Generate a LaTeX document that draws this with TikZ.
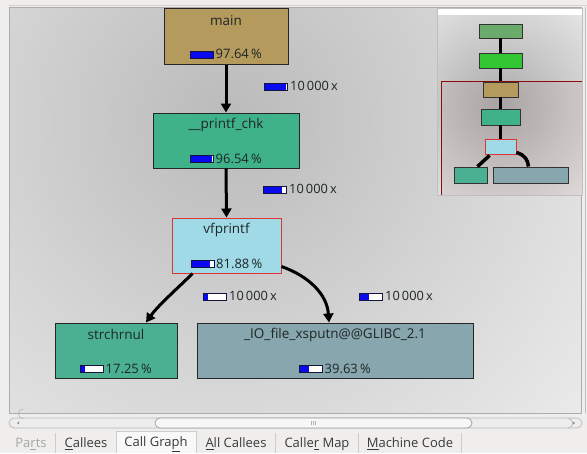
\documentclass[tikz,border=0pt]{standalone}
\usepackage{fontspec}
\setmainfont{Open Sans}
\usetikzlibrary{arrows.meta,calc}

% palette
\definecolor{winbg}{HTML}{EFEEED}
\definecolor{frameline}{HTML}{ACACAC}
\definecolor{cMain}{HTML}{B49A5C}
\definecolor{cChk}{HTML}{3FB28A}
\definecolor{cVf}{HTML}{A0DAE6}
\definecolor{cStr}{HTML}{4BB092}
\definecolor{cIO}{HTML}{87A6AE}
\definecolor{cTop}{HTML}{6AAA6A}
\definecolor{cLime}{HTML}{33C633}
\definecolor{selred}{HTML}{E03434}
\definecolor{mapred}{HTML}{8B0A0A}
\definecolor{barblue}{HTML}{0A0AF0}
\definecolor{barframe}{HTML}{14143C}
\definecolor{inktext}{HTML}{1E2626}
\definecolor{tabtext}{HTML}{3A3A3A}
\colorlet{glowA}{black!27}
\colorlet{glowM}{black!17}
\colorlet{glowB}{black!5}
\colorlet{glowC}{black!3}
\colorlet{mapA}{black!33}
\colorlet{mapB}{white}

% soft grey glow behind the call graph and the overview map
\pgfdeclareradialshading{viewglow}{\pgfpoint{0bp}{0bp}}{color(0bp)=(glowA); color(14bp)=(glowM); color(32bp)=(glowB); color(50bp)=(glowC)}
\pgfdeclareradialshading{mapglow}{\pgfpoint{0bp}{0bp}}{color(0bp)=(mapA); color(50bp)=(mapB)}

% inclusive-cost bar: frame 24x8, blue part of the given width
\newcommand\costbar[1]{\raisebox{1pt}{\setlength\fboxsep{0pt}\setlength\fboxrule{1pt}%
  \fcolorbox{barframe}{white}{\makebox[22pt][l]{\color{barblue}\rule{#1}{6pt}}}}}

\begin{document}
\begin{tikzpicture}[x=1pt,y=-1pt,
  callbox/.style={draw=black!85, line width=1pt, inner sep=0pt, minimum height=55pt},
  boxtitle/.style={inner sep=0pt, text=inktext, font=\fontsize{13.5}{15}\selectfont},
  cost/.style={inner sep=0pt, text=inktext, font=\fontsize{13}{15}\selectfont},
  callcount/.style={inner sep=0pt, anchor=west, text=inktext, font=\fontsize{12.8}{15}\selectfont},
  conn/.style={line width=3pt, black, -{Triangle[length=9pt,width=10pt]}},
  minibox/.style={draw=black!80, line width=0.9pt, inner sep=0pt},
  miniconn/.style={line width=3.5pt, black},
  tab/.style={inner sep=0pt, text=tabtext, font=\fontsize{13}{15}\selectfont},
  tabsep/.style={draw=black!20, line width=0.8pt}]

\useasboundingbox (0,0) rectangle (587,453);
\fill[winbg] (0,0) rectangle (587,453);

% ---- graph view ----
\begin{scope}
  \clip (9,7) rectangle (581,413);
  \fill[shading=viewglow] (230-420,120-420) rectangle (230+420,120+420);
\end{scope}
\draw[frameline, line width=0.8pt] (9,7) rectangle (581,413);
\draw[black!18, line width=0.8pt] (9,5) -- (587,5);
\draw[black!25, line width=0.8pt] (585,7) -- (585,413);

% ---- call nodes ----
\node[callbox, fill=cMain, minimum width=124pt, minimum height=56pt] (main) at (226,36) {};
\node[callbox, fill=cChk, minimum width=146pt] (chk) at (226,140.5) {};
\node[callbox, fill=cVf, draw=selred, minimum width=109pt] (vf) at (226.5,245.5) {};
\node[callbox, fill=cStr, minimum width=122pt] (str) at (116,350.5) {};
\node[callbox, fill=cIO, minimum width=276pt] (io) at (335,350.5) {};

\node[boxtitle] (mainT) at ($(main.north)+(0,13)$) {main};
\node[boxtitle] (chkT) at ($(chk.north)+(0,12)$) {\_\_printf\_chk};
\node[boxtitle] (vfT) at ($(vf.north)+(0,12.5)$) {vfprintf};
\node[boxtitle] (strT) at ($(str.north)+(0,11.5)$) {strchrnul};
\node[boxtitle] (ioT) at ($(io.north)+(0,12)$) {\_IO\_file\_xsputn@@GLIBC\_2.1};

\node[cost] (mainC) at ($(main.south)+(0,-10.5)$) {\costbar{21.5pt}\hspace{1.5pt}97.64\,\%};
\node[cost] (chkC) at ($(chk.south)+(0,-10)$) {\costbar{21.2pt}\hspace{1.5pt}96.54\,\%};
\node[cost] (vfC) at ($(vf.south)+(0,-10)$) {\costbar{18pt}\hspace{1.5pt}81.88\,\%};
\node[cost] (strC) at ($(str.south)+(0,-10)$) {\costbar{3.8pt}\hspace{1.5pt}17.25\,\%};
\node[cost] (ioC) at ($(io.south)+(0,-10)$) {\costbar{8.7pt}\hspace{1.5pt}39.63\,\%};

% ---- calls ----
\draw[conn] (main.south) -- (chk.north);
\draw[conn] (chk.south) -- (vf.north);
\draw[conn] ($(vf.south west)+(21,0)$) .. controls ($(vf.south west)+(8,13)$) and ($(str.north)+(42,-17)$) .. ($(str.north)+(30,0)$);
\draw[conn] ($(vf.south east)+(0,-7)$) .. controls ($(vf.south east)+(28,3)$) and ($(io.north)+(-8,-28)$) .. ($(io.north)+(-6,0)$);

\node[callcount] (n1) at (264,86) {\costbar{21.2pt}\hspace{2pt}10\,000\,x};
\node[callcount] (n2) at (263,189) {\costbar{18pt}\hspace{2pt}10\,000\,x};
\node[callcount] (n3) at (203,296) {\costbar{3.8pt}\hspace{2pt}10\,000\,x};
\node[callcount] (n4) at (359,296) {\costbar{8.7pt}\hspace{2pt}10\,000\,x};

% ---- overview map ----
\fill[white] (437,8) rectangle (582,195);
\begin{scope}
  \clip (437,8) rectangle (582,195);
  \fill[shading=mapglow] (500-90,105-90) rectangle (500+90,105+90);
  \fill[mapred, opacity=0.05] (441,81) rectangle (582,195);
\end{scope}
\draw[black!25, line width=0.8pt] (437,8) rectangle (582,195);

\node[minibox, fill=cTop, minimum width=43pt, minimum height=14pt] (m1) at (500.5,31) {};
\node[minibox, fill=cLime, minimum width=43pt, minimum height=15pt] (m2) at (500.5,60.5) {};
\node[minibox, fill=cMain, minimum width=35pt, minimum height=15pt] (m3) at (500.5,89.5) {};
\node[minibox, fill=cChk, minimum width=39pt, minimum height=16pt] (m4) at (500.5,117) {};
\node[minibox, fill=cVf, draw=selred, minimum width=31pt, minimum height=15pt] (m5) at (500.5,146.5) {};
\node[minibox, fill=cStr, minimum width=33pt, minimum height=16pt] (m6) at (470.5,175) {};
\node[minibox, fill=cIO, minimum width=75pt, minimum height=16pt] (m7) at (530.5,175) {};

\draw[miniconn] (m1.south) -- (m2.north);
\draw[miniconn] (m2.south) -- (m3.north);
\draw[miniconn] (m3.south) -- (m4.north);
\draw[miniconn] (m4.south) -- (m5.north);
\draw[miniconn] ($(m5.south west)+(5,1)$) -- ($(m6.north east)+(-10,0)$);
\draw[miniconn] ($(m5.south east)+(0,-2)$) .. controls ($(m5.south east)+(9,1)$) and ($(m7.north)+(-3,-7)$) .. ($(m7.north)+(-2,0)$);

\draw[mapred, line width=1pt] (441,195) -- (441,81) -- (582,81);

% ---- horizontal scroll bar ----
\draw[fill=black!7, draw=black!28, line width=0.7pt, rounded corners=5pt] (9,418) rectangle (582,428);
\draw[fill=black!3, draw=black!38, line width=0.7pt, rounded corners=5pt] (155,418) rectangle (472,428);
\draw[black!28, line width=0.7pt] (23,418.5) arc[start angle=-90, end angle=-270, radius=4.75pt];
\draw[black!28, line width=0.7pt] (568,418.5) arc[start angle=90, end angle=-90, radius=4.75pt];
\fill[black!45] (17,423) -- (19,421.5) -- (19,424.5) -- cycle;
\fill[black!45] (575,423) -- (573,421.5) -- (573,424.5) -- cycle;
\foreach \gx in {311.5,313.5,315.5} \draw[black!30, line width=0.5pt] (\gx,421) -- (\gx,425);

% ---- tab bar ----
\fill[white!60!winbg] (116,431) rectangle (196,453);
\draw[tabsep] (116,453) -- (116,431) -- (196,431) -- (196,453);
\foreach \sx in {55,275,358,461} \draw[tabsep] (\sx,433) -- (\sx,453);

\node[tab, text=black!35] (tParts) at (31,444) {Pa\underline{r}ts};
\node[tab] (tCallees) at (86,444) {\underline{C}allees};
\node[tab] (tGraph) at (156,444) {Call Gra\underline{p}h};
\node[tab] (tAll) at (236,444) {\underline{A}ll Callees};
\node[tab] (tMap) at (317,444) {Calle\underline{r} Map};
\node[tab] (tCode) at (410,444) {\underline{M}achine Code};
\end{tikzpicture}
\end{document}
